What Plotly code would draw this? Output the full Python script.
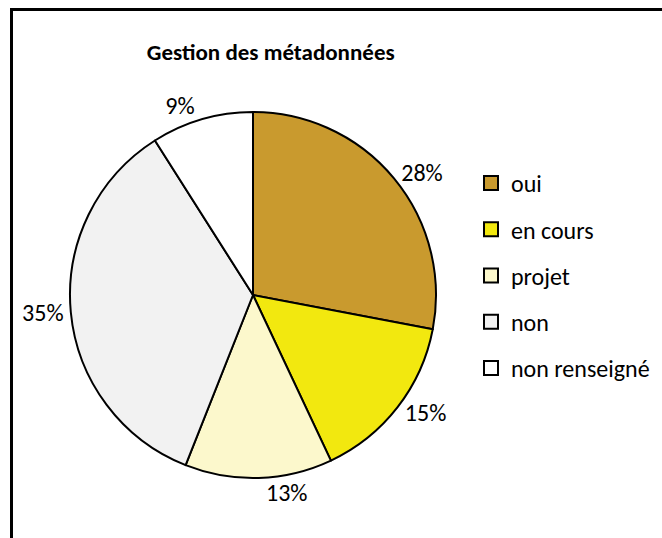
import plotly.graph_objects as go

labels = ["oui", "en cours", "projet", "non", "non renseigné"]
values = [28, 15, 13, 35, 9]
colors = ["#C99A2E", "#F2E80F", "#FCF8CC", "#F2F2F2", "#FFFFFF"]
title_text = "Gestion des métadonnées"

FONT = "Calibri, Carlito, Lato, sans-serif"
W, H = 662, 538

fig = go.Figure()
fig.add_trace(go.Pie(
    labels=labels, values=values, sort=False, direction="clockwise", rotation=0,
    marker=dict(colors=colors, line=dict(color="black", width=2)),
    textinfo="percent", textposition="outside",
    outsidetextfont=dict(family=FONT, size=24, color="black"),
    showlegend=False, hoverinfo="label+percent",
    domain=dict(x=[70 / W, 436 / W], y=[1 - 478 / H, 1 - 112 / H]),
))
for lab, col in zip(labels, colors):
    fig.add_trace(go.Scatter(
        x=[None], y=[None], mode="markers", name=lab, legendgroup=lab,
        marker=dict(symbol="square", size=14, color=col, line=dict(color="black", width=2)),
    ))

fig.update_layout(
    width=W, height=H,
    margin=dict(l=0, r=0, t=0, b=0, autoexpand=False),
    paper_bgcolor="white", plot_bgcolor="white",
    font=dict(family=FONT, size=24, color="black"),
    title=dict(text="<b>" + title_text + "</b>", x=0.409, xanchor="center",
               y=1 - 52 / H, yanchor="middle", font=dict(family=FONT, size=23, color="black")),
    xaxis=dict(visible=False), yaxis=dict(visible=False),
    legend=dict(x=471 / W, y=1 - 161 / H, xanchor="left", yanchor="top",
                tracegroupgap=12, font=dict(family=FONT, size=24, color="black"),
                itemwidth=30, bgcolor="rgba(0,0,0,0)"),
    shapes=[
        dict(type="line", xref="paper", yref="paper", x0=10 / W, x1=1, y0=1 - 9.5 / H, y1=1 - 9.5 / H,
             line=dict(color="black", width=3)),
        dict(type="line", xref="paper", yref="paper", x0=11.5 / W, x1=11.5 / W, y0=1 - 8 / H, y1=0,
             line=dict(color="black", width=3)),
    ],
)
fig.write_html("out.html", config={"displayModeBar": False},
               post_script="document.body.style.margin='0';")
